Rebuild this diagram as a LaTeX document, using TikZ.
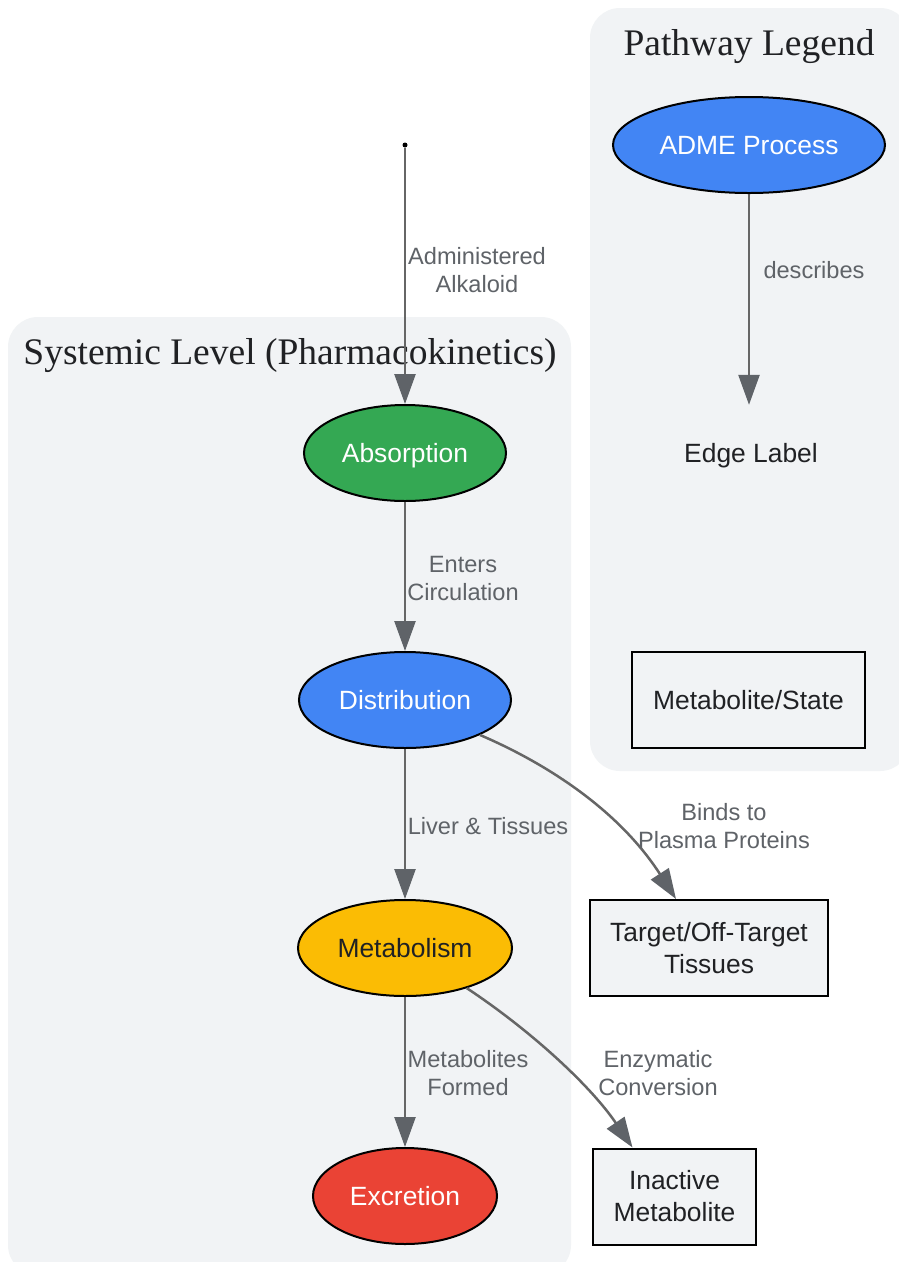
\documentclass[tikz,border=0pt]{standalone}
\usepackage{fontspec}
\setmainfont{Liberation Serif}
\newfontfamily\lsans{Liberation Sans}
\usetikzlibrary{arrows.meta,shapes.geometric}
\definecolor{panelgray}{HTML}{F1F3F5}
\definecolor{edgegray}{HTML}{5F6368}
\definecolor{linegray}{HTML}{666666}
\definecolor{gblue}{HTML}{4285F4}
\definecolor{ggreen}{HTML}{34A853}
\definecolor{gyellow}{HTML}{FBBC04}
\definecolor{gred}{HTML}{EA4335}
\definecolor{txtdark}{HTML}{202124}
\begin{document}
\begin{tikzpicture}[x=1pt,y=-1pt,
  panel/.style={fill=panelgray, rounded corners=30pt},
  ptitle/.style={font=\fontsize{37.5}{42}\selectfont, text=txtdark, inner sep=0pt},
  proc/.style={ellipse, draw=black, line width=2pt, inner sep=0pt, minimum height=96pt, text height=20pt, text depth=2pt, font=\lsans\fontsize{26.4}{32}\selectfont},
  statebox/.style={rectangle, draw=black, line width=2pt, fill=panelgray, inner sep=0pt, minimum height=96pt, align=center, font=\lsans\fontsize{26.4}{32}\selectfont, text=txtdark},
  elabel/.style={font=\lsans\fontsize{23.6}{28}\selectfont, text=edgegray, align=center, inner sep=0pt},
  flow/.style={draw=linegray, line width=2.5pt, -{Triangle[length=30pt,width=21pt,color=edgegray]}},
]
\useasboundingbox (0,0) rectangle (898,1262);
\fill[white] (0,0) rectangle (898,1262);

% panels
\path[panel] (8,317) rectangle (571,1275);
\path[panel] (590,8) rectangle (910,771);
\node[ptitle] (systitle) at (290,356) {Systemic Level (Pharmacokinetics)};
\node[ptitle] (legtitle) at (749,47) {Pathway Legend};

% main nodes
\node[circle, fill=black, inner sep=0pt, minimum size=5pt] (start) at (405,145) {};
\node[proc, fill=ggreen, text=white, minimum width=202pt] (abs) at (405,453) {Absorption};
\node[proc, fill=gblue, text=white, minimum width=212pt] (dist) at (405,700) {Distribution};
\node[proc, fill=gyellow, text=txtdark, minimum width=214pt] (met) at (405,948) {Metabolism};
\node[proc, fill=gred, text=white, minimum width=184pt] (exc) at (405,1196) {Excretion};
\node[statebox, minimum width=238pt] (tgt) at (709,948) {Target/Off-Target\\Tissues};
\node[statebox, minimum width=163pt] (inact) at (674.5,1196.5) {Inactive\\Metabolite};

% legend nodes
\node[proc, fill=gblue, text=white, minimum width=272pt] (adme) at (749,145) {ADME Process};
\node[inner sep=0pt, minimum height=96pt, minimum width=150pt, text height=20pt, text depth=2pt, font=\lsans\fontsize{26.4}{32}\selectfont, text=txtdark] (elab) at (751,453) {Edge Label};
\node[statebox, minimum width=233pt] (mstate) at (748.5,700) {Metabolite/State};

% edges
\draw[flow] (start) -- (abs);
\draw[flow] (abs) -- (dist);
\draw[flow] (dist) -- (met);
\draw[flow] (met) -- (exc);
\draw[flow] (dist.-25) .. controls (550,765) and (620,812) .. ([xshift=-33pt]tgt.north);
\draw[flow] (met.-33) .. controls (530,1030) and (590,1085) .. ([xshift=-42pt]inact.north);
\draw[flow] (adme) -- ([xshift=-2pt]elab.north);

% edge labels
\node[elabel] (l1) at (477,270) {Administered\\Alkaloid};
\node[elabel] (l2) at (463,578) {Enters\\Circulation};
\node[elabel] (l3) at (488,826) {Liver \& Tissues};
\node[elabel] (l4) at (468,1073) {Metabolites\\Formed};
\node[elabel] (l5) at (724,826) {Binds to\\Plasma Proteins};
\node[elabel] (l6) at (658,1073) {Enzymatic\\Conversion};
\node[elabel] (l7) at (814,270) {describes};
\end{tikzpicture}
\end{document}
